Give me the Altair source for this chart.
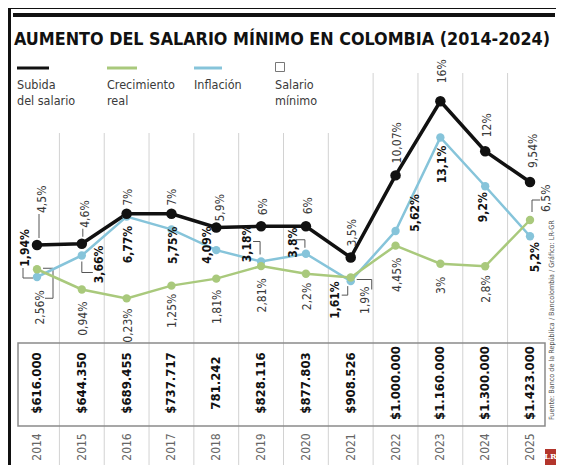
import altair as alt
import pandas as pd

# ---------------- data ----------------
YEARS = list(range(2014, 2026))
SUBIDA = [4.5, 4.6, 7, 7, 5.9, 6, 6, 3.5, 10.07, 16, 12, 9.54]
INFLACION = [1.94, 3.66, 6.77, 5.75, 4.09, 3.18, 3.8, 1.61, 5.62, 13.1, 9.2, 5.2]
CRECIMIENTO = [2.56, 0.94, 0.23, 1.25, 1.81, 2.81, 2.2, 1.9, 4.45, 3, 2.8, 6.5]
SALARIO = ["$616.000", "$644.350", "$689.455", "$737.717", "781.242", "$828.116",
           "$877.803", "$908.526", "$1.000.000", "$1.160.000", "$1.300.000", "$1.423.000"]

TITLE = "AUMENTO DEL SALARIO MÍNIMO EN COLOMBIA (2014-2024)"
SOURCE = "Fuente: Banco de la República / Bancolombia / Gráfico: LR-GR"

# ---------------- layout / style ----------------
W, H = 548, 457
X0, X1 = 29, 522            # pixel range of first / last year
Y_DOM = [0, 16]
Y_RNG = [293.25, 93.25]
XS = (X1 - X0) / (YEARS[-1] - YEARS[0])
YS = (Y_RNG[0] - Y_RNG[1]) / (Y_DOM[1] - Y_DOM[0])

BLACK, GREEN, BLUE = "#111111", "#a9c97c", "#86c4da"
GRID = "#d2d2d2"
FONT = "DejaVu Sans Condensed, Roboto"
TXT = "#3a3a3a"

NUDGE_SUBIDA = [(5, -32, 'b'), (3, -16, 'b'), (1, -8, 'b'), (1, -8, 'b'), (4, -6, 'b'), (2, -11, 'b'),
                (2, -12, 'b'), (1, -11, 'b'), (1, -12, 'b'), (2, -18, 'b'), (2, -14, 'b'), (3, -14, 'b')]
NUDGE_INFL = [(-12, -29, 'c'), (17, 9, 'c'), (1, 28, 'c'), (2, 16, 'c'), (-9, -5, 'c'), (-14, -18, 'c'),
              (-13, -11, 'c'), (-16, 19, 'c'), (19, -18, 'c'), (2, 27, 'c'), (-2, 21, 'c'), (5, 21, 'c')]
NUDGE_CREC = [(3, 21, 't'), (1, 12, 't'), (1, 10, 't'), (1, 8, 't'), (1, 11, 't'), (1, 12, 't'),
              (1, 9, 't'), (14, 9, 't'), (1, 12, 't'), (1, 13, 't'), (1, 9, 't'), (16, -8, 'b')]

LEADERS = [
    ("s", 2014, [(2, -7), (2, -31)]),
    ("s", 2015, [(1, -7), (1, -15)]),
    ("i", 2014, [(-4, 1), (-14, 1), (-14, -9)]),
    ("c", 2014, [(6, -1), (16, -1), (16, 29), (8, 29)]),
    ("i", 2015, [(0, 6), (0, 17), (11, 17)]),
    ("i", 2019, [(-8, -20), (-1, -20), (-1, -7)]),
    ("i", 2020, [(-10, -14), (-1, -14), (-1, -6)]),
    ("i", 2021, [(-3, 5), (-3, 14), (-9, 14)]),
    ("c", 2021, [(6, 2), (21, 2), (21, 12)]),
    ("c", 2025, [(2, -8), (2, -20), (10, -20)]),
]

xscale = alt.Scale(domain=[YEARS[0], YEARS[-1]], range=[X0, X1], nice=False, zero=False)
yscale = alt.Scale(domain=Y_DOM, range=Y_RNG, nice=False, zero=False)


def X(f="year"):
    return alt.X(f"{f}:Q", scale=xscale, axis=None)


def Y(f="value"):
    return alt.Y(f"{f}:Q", scale=yscale, axis=None)


def fmt(v):
    return f"{v:g}".replace(".", ",") + "%"


series_vals = {"s": SUBIDA, "i": INFLACION, "c": CRECIMIENTO}

layers = []

deco = alt.Chart(pd.DataFrame({"d": [0]}))
layers.append(deco.mark_rule(color=BLACK, strokeWidth=1).encode(
    x=alt.value(0), x2=alt.value(W), y=alt.value(0.5)))
layers.append(deco.mark_rule(color=BLACK, strokeWidth=3).encode(
    x=alt.value(1.5), y=alt.value(0), y2=alt.value(H)))
layers.append(deco.mark_rule(color=BLACK, strokeWidth=4).encode(
    x=alt.value(5), x2=alt.value(547), y=alt.value(7)))

layers.append(deco.mark_text(text=TITLE, font=FONT, fontSize=17.8, fontWeight="bold", color=BLACK,
                             align="left", baseline="middle").encode(x=alt.value(6), y=alt.value(32)))

leg_items = [("Subida", "del salario", BLACK, 9, 41), ("Crecimiento", "real", GREEN, 99, 129),
             ("Inflación", "", BLUE, 186, 214)]
for t1, t2, col, xa, xb in leg_items:
    layers.append(deco.mark_rule(color=col, strokeWidth=3).encode(
        x=alt.value(xa), x2=alt.value(xb), y=alt.value(60)))
    layers.append(deco.mark_text(text=t1, font=FONT, fontSize=12.5, color=TXT, align="left",
                                 baseline="middle").encode(x=alt.value(xa), y=alt.value(77)))
    if t2:
        layers.append(deco.mark_text(text=t2, font=FONT, fontSize=12.5, color=TXT, align="left",
                                     baseline="middle").encode(x=alt.value(xa), y=alt.value(93)))
layers.append(deco.mark_rect(fill="white", stroke="#777", strokeWidth=1).encode(
    x=alt.value(267.5), x2=alt.value(276.5), y=alt.value(54.5), y2=alt.value(63.5)))
layers.append(deco.mark_text(text="Salario", font=FONT, fontSize=12.5, color=TXT, align="left",
                             baseline="middle").encode(x=alt.value(267), y=alt.value(77)))
layers.append(deco.mark_text(text="mínimo", font=FONT, fontSize=12.5, color=TXT, align="left",
                             baseline="middle").encode(x=alt.value(267), y=alt.value(93)))

grid = pd.DataFrame({"gx": [y + 0.5 for y in YEARS[:-1]],
                     "tall": [y >= 2021 for y in YEARS[:-1]]})
gch = alt.Chart(grid)
layers.append(gch.transform_filter("!datum.tall").mark_rule(color=GRID, strokeWidth=1).encode(
    x=X("gx"), y=alt.value(125), y2=alt.value(H)))
layers.append(gch.transform_filter("datum.tall").mark_rule(color=GRID, strokeWidth=1).encode(
    x=X("gx"), y=alt.value(65), y2=alt.value(H)))

layers.append(deco.mark_rect(fill=None, stroke="#8a8a8a", strokeWidth=1.5).encode(
    x=alt.value(10), x2=alt.value(537), y=alt.value(335), y2=alt.value(418)))

tab = pd.DataFrame({"year": YEARS, "sal": SALARIO, "ylab": [str(y) for y in YEARS]})
tch = alt.Chart(tab)
layers.append(tch.mark_text(font=FONT, fontSize=13, fontWeight="bold", color=BLACK, angle=270,
                            align="center", baseline="middle").encode(
    x=X(), y=alt.value(375), text="sal:N"))
layers.append(tch.mark_text(font=FONT, fontSize=12, color="#666", angle=270,
                            align="center", baseline="middle").encode(
    x=X(), y=alt.value(439), text="ylab:N"))

lrows = []
for k, (s, yr, pts) in enumerate(LEADERS):
    v = series_vals[s][YEARS.index(yr)]
    for j, (px, py) in enumerate(pts):
        lrows.append({"id": k, "o": j, "lx": yr + px / XS, "ly": v - py / YS})
layers.append(alt.Chart(pd.DataFrame(lrows)).mark_line(color="#555", strokeWidth=1).encode(
    x=X("lx"), y=Y("ly"), detail="id:N", order="o:Q"))

order = [("i", BLUE, 2.5, 70), ("c", GREEN, 2.5, 70), ("s", BLACK, 3.5, 110)]
for s, col, sw, sz in order:
    d = pd.DataFrame({"year": YEARS, "value": series_vals[s]})
    layers.append(alt.Chart(d).mark_line(color=col, strokeWidth=sw).encode(x=X(), y=Y()))
for s, col, sw, sz in order:
    d = pd.DataFrame({"year": YEARS, "value": series_vals[s]})
    layers.append(alt.Chart(d).mark_circle(color=col, size=sz, opacity=1).encode(x=X(), y=Y()))

lab_cfg = [("s", NUDGE_SUBIDA, "normal", TXT, 12),
           ("i", NUDGE_INFL, "bold", BLACK, 12),
           ("c", NUDGE_CREC, "normal", TXT, 12)]
amap = {"b": "left", "t": "right", "c": "center"}
for s, nud, wt, col, fs in lab_cfg:
    d = pd.DataFrame({"year": YEARS, "value": series_vals[s],
                      "lab": [fmt(v) for v in series_vals[s]]})
    base = alt.Chart(d)
    for yr, (sx, sy, a) in zip(YEARS, nud):
        layers.append(base.transform_filter(alt.datum.year == yr).mark_text(
            font=FONT, fontSize=fs, fontWeight=wt, color=col, angle=270, align=amap[a],
            baseline="middle", dx=-sy, dy=sx).encode(x=X(), y=Y(), text="lab:N"))

layers.append(deco.mark_text(text=SOURCE, font=FONT, fontSize=7.2, color="#555", angle=270,
                             align="left", baseline="middle").encode(x=alt.value(544), y=alt.value(412)))

# LR logo (partly visible at the right edge, as in the original)
layers.append(deco.mark_rect(fill="#b3352c").encode(
    x=alt.value(537), x2=alt.value(548), y=alt.value(441), y2=alt.value(457)))
layers.append(deco.mark_text(text="LR", font="DejaVu Serif", fontSize=8, fontWeight="bold",
                             color="white", align="center", baseline="middle").encode(
    x=alt.value(542.5), y=alt.value(449)))

chart = alt.layer(*layers).properties(
    width=W, height=H, padding=0, autosize=alt.AutoSizeParams(type="none")
).configure_view(stroke=None)

chart.save("out.html", embed_options={"renderer": "svg", "actions": False})
